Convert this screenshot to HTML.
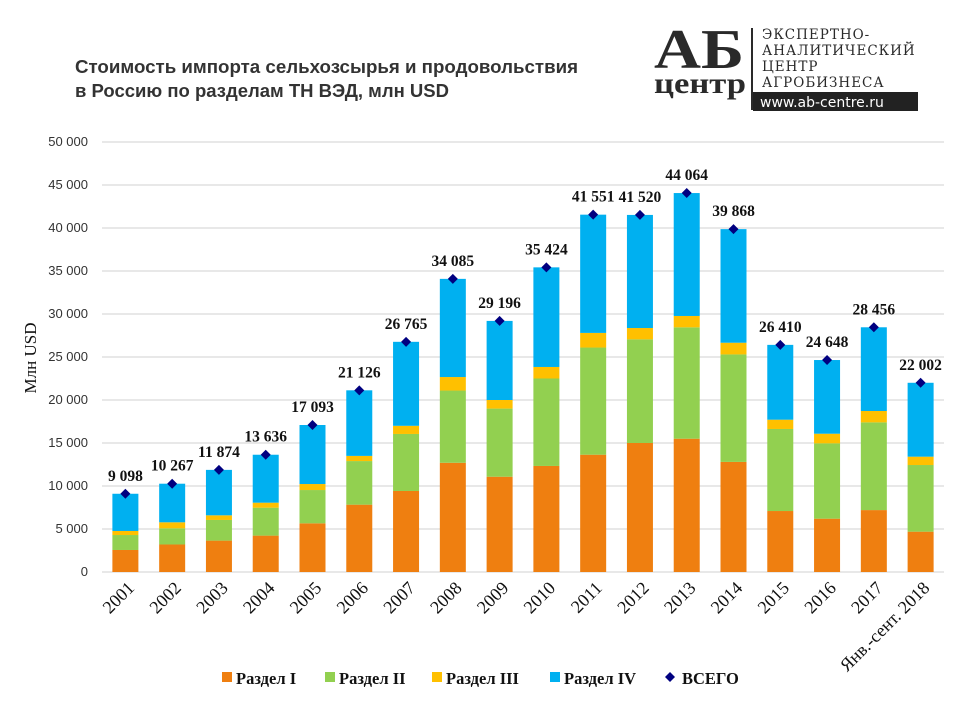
<!DOCTYPE html>
<html><head><meta charset="utf-8">
<style>
body{margin:0;background:#fff;width:960px;height:720px;overflow:hidden}
svg{display:block}
</style></head>
<body>
<svg id="chart" width="960" height="720" xmlns="http://www.w3.org/2000/svg">
  <g font-family="Liberation Sans, sans-serif" font-weight="bold" font-size="18.5" fill="#333">
    <text x="75" y="73" textLength="503" lengthAdjust="spacingAndGlyphs">Стоимость импорта сельхозсырья и продовольствия</text>
    <text x="75" y="97">в Россию по разделам ТН ВЭД, млн USD</text>
  </g>
  <g>
    <text x="654" y="68" font-family="Liberation Serif, serif" font-weight="bold" font-size="56" fill="#2a2a2a" textLength="90" lengthAdjust="spacingAndGlyphs">АБ</text>
    <text x="654" y="93" font-family="Liberation Serif, serif" font-weight="bold" font-size="30" fill="#2a2a2a" textLength="92" lengthAdjust="spacingAndGlyphs">центр</text>
    <rect x="751" y="28" width="2" height="82" fill="#2a2a2a"/>
    <g font-family="DejaVu Serif, Liberation Serif, serif" font-size="13.5" fill="#2a2a2a" letter-spacing="1">
      <text x="762" y="39">ЭКСПЕРТНО-</text>
      <text x="762" y="55">АНАЛИТИЧЕСКИЙ</text>
      <text x="762" y="71">ЦЕНТР</text>
      <text x="762" y="87">АГРОБИЗНЕСА</text>
    </g>
    <rect x="753" y="92" width="165" height="19" fill="#222"/>
    <text x="760" y="107" font-family="DejaVu Sans, sans-serif" font-size="14" fill="#fff">www.ab-centre.ru</text>
  </g>
  <text transform="translate(36,358) rotate(-90)" text-anchor="middle" font-family="Liberation Serif, serif" font-size="17" fill="#111">Млн USD</text>
  <g id="grid"></g><g id="bars"></g><g id="marks"></g><g id="xl"></g>
  <g font-family="Liberation Serif, serif" font-weight="bold" font-size="16.5" fill="#111">
    <g><rect x="222" y="672" width="10" height="10" fill="#ef7f10"/><text x="236" y="684">Раздел I</text></g>
    <g><rect x="325" y="672" width="10" height="10" fill="#92d050"/><text x="339" y="684">Раздел II</text></g>
    <g><rect x="432" y="672" width="10" height="10" fill="#ffc000"/><text x="446" y="684">Раздел III</text></g>
    <g><rect x="550" y="672" width="10" height="10" fill="#00b0f0"/><text x="564" y="684">Раздел IV</text></g>
    <g><path d="M670,672 L675,677 L670,682 L665,677Z" fill="#000080"/><text x="682" y="684">ВСЕГО</text></g>
  </g>
</svg>
<script>
const categories=["2001","2002","2003","2004","2005","2006","2007","2008","2009","2010","2011","2012","2013","2014","2015","2016","2017","Янв.-сент. 2018"];
const razdel1=[2.56,3.2,3.65,4.23,5.66,7.83,9.42,12.7,11.08,12.33,13.64,15.0,15.5,12.8,7.09,6.2,7.2,4.69];
const razdel2=[1.74,1.88,2.4,3.25,3.87,5.07,6.63,8.4,7.92,10.17,12.46,12.05,12.95,12.5,9.54,8.76,10.2,7.75];
const razdel3=[0.47,0.7,0.54,0.58,0.7,0.6,0.95,1.57,1.0,1.34,1.7,1.32,1.32,1.36,1.08,1.12,1.32,0.97];
const totals=[9098,10267,11874,13636,17093,21126,26765,34085,29196,35424,41551,41520,44064,39868,26410,24648,28456,22002];
const yTicks=[0,5000,10000,15000,20000,25000,30000,35000,40000,45000,50000];
const yTickLabels=["0","5 000","10 000","15 000","20 000","25 000","30 000","35 000","40 000","45 000","50 000"];
const NS="http://www.w3.org/2000/svg";
const x0=102,x1=944,y0=572,y1=142,yMax=50000;
const step=(x1-x0)/categories.length;
const X=i=>x0+step*(i+0.5);
const Y=v=>y0-(v/yMax)*(y0-y1);
function mk(t,a,p){const e=document.createElementNS(NS,t);for(const k in a)e.setAttribute(k,a[k]);p.appendChild(e);return e;}
const grid=document.getElementById('grid'),bars=document.getElementById('bars'),marks=document.getElementById('marks'),xl=document.getElementById('xl');
yTicks.forEach((v,i)=>{
  const l=mk('line',{x1:x0,x2:x1,y1:Y(v),y2:Y(v),stroke:'#d9d9d9','stroke-width':1.3},grid);
  
  
  const t=mk('text',{x:88,y:Y(v)+4,'text-anchor':'end','font-family':'Liberation Sans, sans-serif','font-size':13,fill:'#333'},grid);
  t.textContent=yTickLabels[i];
  
  
});
const colors=['#ef7f10','#92d050','#ffc000','#00b0f0'];
const bw=26;
categories.forEach((c,i)=>{
  const s=[razdel1[i],razdel2[i],razdel3[i]].map(v=>v*1000);
  s.push(totals[i]-s[0]-s[1]-s[2]);
  let acc=0;
  s.forEach((v,k)=>{
    const r=mk('rect',{x:X(i)-bw/2,y:Y(acc+v),width:bw,height:Y(acc)-Y(acc+v),fill:colors[k]},bars);
    
    
    acc+=v;
  });
  const cx=X(i),cy=Y(totals[i]);
  const d=mk('path',{d:`M${cx},${cy-5}L${cx+5},${cy}L${cx},${cy+5}L${cx-5},${cy}Z`,fill:'#000080'},marks);
  
  
  const t=mk('text',{x:cx,y:cy-13,'text-anchor':'middle','font-family':'Liberation Serif, serif','font-weight':'bold','font-size':15.5,fill:'#111'},marks);
  t.textContent=totals[i].toLocaleString('ru-RU').replace(/\s/g,' ');
  
  
  const xt=mk('text',{transform:`translate(${cx+10},${589}) rotate(-45)`,'text-anchor':'end','font-family':'Liberation Serif, serif','font-size':18,fill:'#111'},xl);
  xt.textContent=c;
  
  
});
</script>
</body></html>
